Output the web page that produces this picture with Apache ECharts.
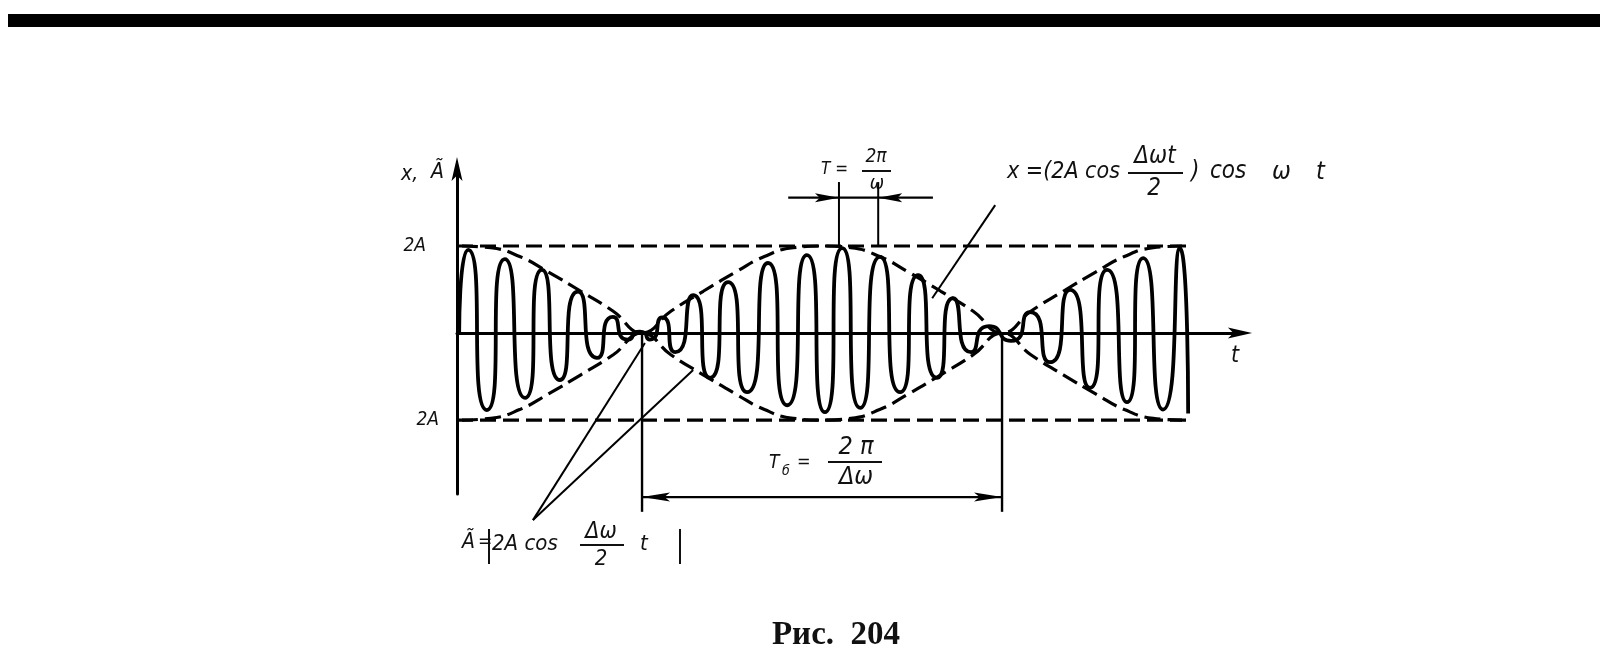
<!DOCTYPE html>
<html>
<head>
<meta charset="utf-8">
<script src="https://cdn.jsdelivr.net/npm/echarts@6/dist/echarts.min.js"></script>
<style>
html,body{margin:0;padding:0;background:#fff;}
#c{width:1604px;height:668px;}
</style>
</head>
<body>
<div id="c"></div>
<script>
// ---- data (t in carrier periods, x in units of A) ----
// extremes of the oscillation x(t)
const waveT = [-0.08, 0.17, 0.69, 1.19, 1.75, 2.22, 2.72, 3.22, 3.75, 4.19, 4.61, 4.94, 5.22, 5.56, 5.92,
  6.42, 6.89, 7.39, 7.92, 8.50, 9.03, 9.58, 10.08, 10.56, 11.06, 11.61, 12.17, 12.67, 13.19, 13.64,
  14.14, 14.64, 15.25, 15.78, 16.33, 16.89, 17.44, 17.92, 18.47, 18.92, 19.47, 19.94, 20.17];
const waveX = [0.00, 1.91, -1.77, 1.70, -1.49, 1.45, -1.08, 0.95, -0.57, 0.37, -0.15, 0.03, -0.15, 0.36, -0.44,
  0.87, -1.03, 1.17, -1.36, 1.61, -1.66, 1.79, -1.82, 1.95, -1.72, 1.75, -1.36, 1.33, -1.03, 0.80,
  -0.44, 0.16, -0.18, 0.48, -0.67, 0.99, -1.26, 1.45, -1.59, 1.72, -1.76, 1.95, -1.85];
// envelope |2A cos(Δω t / 2)|
const envT = [0, 0.8, 1.6, 2.4, 3.3, 4.2, 5, 5.8, 6.7, 7.6, 8.4, 9.2, 10, 10.8, 11.6, 12.4, 13.3, 14.2, 15,
  15.8, 16.7, 17.6, 18.4, 19.2, 20];
const envA = [2.00, 1.96, 1.76, 1.40, 0.96, 0.50, 0, 0.50, 0.96, 1.40, 1.76, 1.96, 2.00, 1.96, 1.76, 1.40,
  0.96, 0.50, 0, 0.50, 0.96, 1.40, 1.76, 1.96, 2.00];
// amplitude level lines ±2A
const levelT = [-0.14, 20.28];
const levelA = [2, -2];
const yTickValues = [2, -2];
const yTickLabels = ['2A', '2A'];
// beat nodes (T_б between them) and one carrier period T
const nodeT = [5, 15];
const periodT = [10.47, 11.56];
// leader lines: [from t, from x, to t, to x]
const leaders = [
  [1.97, -4.30, 5.08, -0.23],
  [1.97, -4.30, 6.42, -0.85],
  [14.81, 2.94, 13.06, 0.80]
];

const F = '"DejaVu Sans Condensed","DejaVu Sans",sans-serif';
const ARROW = 'path://M5,0 L10,22 L5,17 L0,22 Z';

const chart = echarts.init(document.getElementById('c'), null, {renderer: 'canvas'});

const wave = waveT.map((t, i) => [t, waveX[i]]);
const envUp = envT.map((t, i) => [t, envA[i]]);
const envDn = envT.map((t, i) => [t, -envA[i]]);
const dashStyle = {color: '#000', width: 3.2, type: [16, 7]};

function txt(text, x, y, size, align, extra) {
  return {
    type: 'text', x: x, y: y, silent: true,
    style: Object.assign({text: text, fontSize: size, fontFamily: F, fontStyle: 'italic',
      fill: '#111', align: align || 'left', verticalAlign: 'middle'}, extra || {})
  };
}
function bar(x1, x2, y, w) {
  return {type: 'line', silent: true, shape: {x1: x1, y1: y, x2: x2, y2: y},
    style: {stroke: '#111', lineWidth: w || 2}};
}
function vbar(x, y1, y2, w) {
  return {type: 'line', silent: true, shape: {x1: x, y1: y1, x2: x, y2: y2},
    style: {stroke: '#111', lineWidth: w || 2}};
}

// annotation marks drawn in data coordinates through the axes
function renderNotes(params, api) {
  const kids = [];
  function seg(a, b, w) {
    const p = api.coord(a), q = api.coord(b);
    kids.push({type: 'line', shape: {x1: p[0], y1: p[1], x2: q[0], y2: q[1]},
      style: {stroke: '#000', lineWidth: w}});
  }
  function head(tip, from, len, hw) {
    const p = api.coord(tip), q = api.coord(from);
    let dx = q[0] - p[0], dy = q[1] - p[1];
    const L = Math.sqrt(dx * dx + dy * dy); dx /= L; dy /= L;
    const bx = p[0] + dx * len, by = p[1] + dy * len;
    const nx = -dy * hw, ny = dx * hw;
    kids.push({type: 'polygon', shape: {points: [[p[0], p[1]], [bx + nx, by + ny],
      [p[0] + dx * len * 0.8, p[1] + dy * len * 0.8], [bx - nx, by - ny]]},
      style: {fill: '#000'}});
  }
  // node verticals
  seg([nodeT[0], 0], [nodeT[0], -4.11], 2.4);
  seg([nodeT[1], 0], [nodeT[1], -4.11], 2.4);
  // T_б double arrow
  seg([nodeT[0], -3.77], [nodeT[1], -3.77], 2.2);
  head([nodeT[0], -3.77], [nodeT[1], -3.77], 28, 4.5);
  head([nodeT[1], -3.77], [nodeT[0], -3.77], 28, 4.5);
  // carrier period T
  seg([periodT[0], 2], [periodT[0], 3.47], 2);
  seg([periodT[1], 2], [periodT[1], 3.47], 2);
  seg([periodT[0] - 1.41, 3.11], [periodT[1] + 1.52, 3.11], 2.2);
  head([periodT[0], 3.11], [periodT[0] - 1.41, 3.11], 24, 4.5);
  head([periodT[1], 3.11], [periodT[1] + 1.52, 3.11], 24, 4.5);
  // leader lines
  leaders.forEach(function (l) { seg([l[0], l[1]], [l[2], l[3]], 2); });
  return {type: 'group', children: kids};
}

const option = {
  animation: false,
  backgroundColor: '#fff',
  grid: {left: 457, right: 364, top: 169, bottom: 174, containLabel: false},
  xAxis: {
    type: 'value', min: -0.14, max: 21.61,
    axisLine: {onZero: true, lineStyle: {color: '#000', width: 3}, symbol: ['none', ARROW], symbolSize: [11, 26]},
    axisTick: {show: false}, axisLabel: {show: false}, splitLine: {show: false}
  },
  yAxis: {
    type: 'value', min: -3.70, max: 3.77,
    axisLine: {onZero: false, lineStyle: {color: '#000', width: 3}, symbol: ['none', ARROW], symbolSize: [11, 26]},
    axisTick: {show: false},
    splitLine: {show: false},
    axisLabel: {
      show: true, customValues: yTickValues, margin: 18,
      formatter: function (v) { const i = yTickValues.indexOf(v); return v > 0 ? '{t|' + yTickLabels[i] + '}' : '{b|' + yTickLabels[i] + '}'; },
      rich: {
        t: {fontSize: 19, fontFamily: F, fontStyle: 'italic', color: '#111', padding: [0, 13, 0, 0]},
        b: {fontSize: 19, fontFamily: F, fontStyle: 'italic', color: '#111'}
      }
    }
  },
  series: [
    {type: 'line', name: 'x', data: wave, smooth: 1, symbol: 'none', clip: false,
      lineStyle: {color: '#000', width: 3.8}, z: 5},
    {type: 'line', name: 'envUp', data: envUp, smooth: 0.5, symbol: 'none', clip: false, lineStyle: dashStyle},
    {type: 'line', name: 'envDn', data: envDn, smooth: 0.5, symbol: 'none', clip: false, lineStyle: dashStyle},
    {type: 'line', name: 'lvlUp', data: levelT.map(t => [t, levelA[0]]), symbol: 'none', clip: false, lineStyle: dashStyle},
    {type: 'line', name: 'lvlDn', data: levelT.map(t => [t, levelA[1]]), symbol: 'none', clip: false, lineStyle: dashStyle},
    {type: 'custom', name: 'notes', data: [[0, 0]], renderItem: renderNotes, clip: false, silent: true, z: 6}
  ],
  graphic: [
    {type: 'rect', silent: true, shape: {x: 8, y: 14, width: 1592, height: 13}, style: {fill: '#000'}},
    txt('x,', 401, 175, 21),
    txt('Ã', 431, 173, 21),
    txt('t', 1235, 356, 23, 'center'),
    // T = 2π/ω
    txt('T =', 821, 170, 17),
    txt('2π', 876, 157, 19, 'center'),
    bar(862, 891, 171, 2),
    txt('ω', 877, 184, 19, 'center'),
    // x = (2A cos Δωt/2) cos ωt
    txt('x =(2A cos', 1007, 172, 23),
    txt('Δωt', 1155, 157, 24, 'center'),
    bar(1128, 1183, 173, 2.2),
    txt('2', 1154, 189, 24, 'center'),
    txt(')', 1191, 172, 24),
    txt('cos', 1210, 172, 24),
    txt('ω', 1272, 172, 25),
    txt('t', 1316, 172, 25),
    // T_б = 2π/Δω
    txt('T', 769, 463, 19),
    txt('б', 782, 471, 14),
    txt('=', 797, 462, 18),
    txt('2 π', 856, 447, 25, 'center'),
    bar(828, 882, 462, 2.2),
    txt('Δω', 856, 477, 25, 'center'),
    // Ã = |2A cos Δω/2 t|
    txt('Ã', 462, 543, 21),
    txt('=', 478, 542, 19),
    vbar(489, 529, 564, 2),
    txt('2A cos', 492, 544, 22),
    txt('Δω', 601, 532, 23, 'center'),
    bar(580, 624, 545, 2),
    txt('2', 601, 559, 22, 'center'),
    txt('t', 640, 544, 22),
    vbar(680, 529, 564, 2),
    // caption
    {type: 'text', x: 836, y: 635, silent: true,
      style: {text: 'Рис.  204', fontSize: 33, fontFamily: '"Liberation Serif","DejaVu Serif",serif', fontWeight: 'bold',
        fill: '#111', align: 'center', verticalAlign: 'middle'}}
  ]
};
chart.setOption(option);
</script>
</body>
</html>
